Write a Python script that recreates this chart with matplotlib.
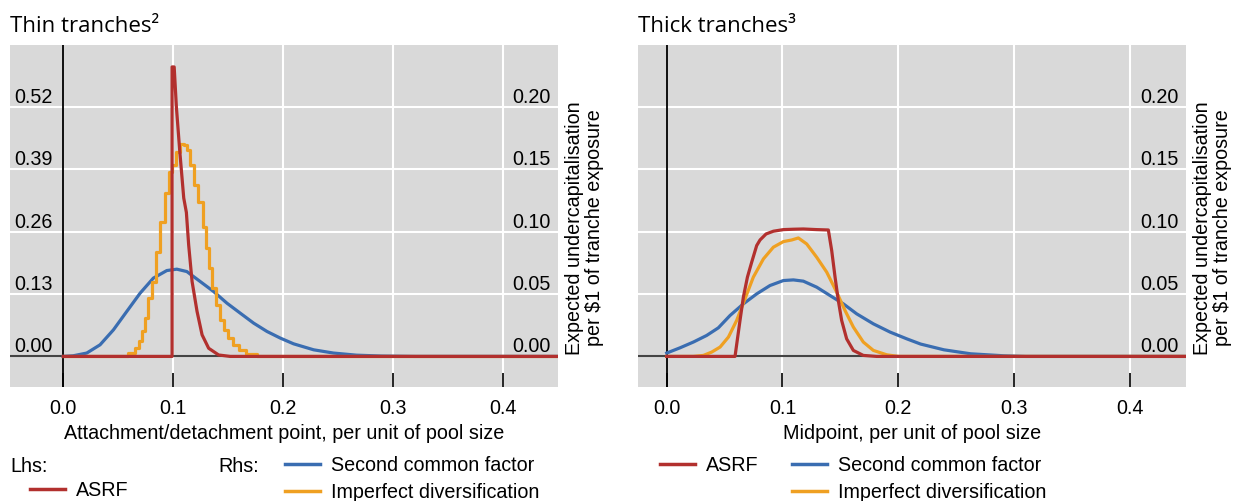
import matplotlib
matplotlib.use('Agg')
import matplotlib.pyplot as plt
from matplotlib.lines import Line2D

plt.rcParams['font.family'] = ['Liberation Sans', 'DejaVu Sans']

# thin tranches (left panel); ASRF on lhs, the others on rhs
thin_asrf_x = [0.0, 0.0991, 0.0991, 0.101, 0.103, 0.106, 0.1097, 0.1121, 0.1142, 0.1173,
               0.1218, 0.1264, 0.1324, 0.1415, 0.152, 0.45]
thin_asrf = [0, 0, 0.603, 0.603, 0.52, 0.43, 0.33, 0.30, 0.232, 0.156,
             0.094, 0.045, 0.017, 0.003, 0, 0]
thin_imp_x = [0.0, 0.0552, 0.0627, 0.0673, 0.0703, 0.0724, 0.0758, 0.0794, 0.0824, 0.0864,
              0.090, 0.0945, 0.0976, 0.1006, 0.1042, 0.1082, 0.1112, 0.1142, 0.1173, 0.1212,
              0.1248, 0.1288, 0.1309, 0.1339, 0.1376, 0.1406, 0.1445, 0.1485, 0.1521, 0.1567,
              0.1627, 0.1703, 0.1824, 0.45]
thin_imp = [0, 0, 0.0027, 0.0067, 0.012, 0.020, 0.0307, 0.0467, 0.060, 0.084,
            0.108, 0.1307, 0.148, 0.153, 0.164, 0.170, 0.169, 0.165, 0.153, 0.137,
            0.124, 0.104, 0.0867, 0.0707, 0.0547, 0.0413, 0.0293, 0.0213, 0.0147, 0.0093,
            0.0053, 0.0021, 0, 0]
thin_scf_x = [0.0, 0.009, 0.0214, 0.0335, 0.0457, 0.0578, 0.070, 0.082, 0.0943, 0.1034,
              0.1125, 0.1247, 0.1369, 0.149, 0.1611, 0.1733, 0.1855, 0.1976, 0.2097, 0.228,
              0.246, 0.267, 0.29, 0.32, 0.45]
thin_scf = [0, 0.0005, 0.0027, 0.0093, 0.0213, 0.036, 0.0507, 0.0627, 0.0688, 0.0699,
            0.068, 0.060, 0.052, 0.0427, 0.0347, 0.0267, 0.020, 0.0147, 0.0101, 0.0053,
            0.0027, 0.001, 0.0003, 0, 0]

# thick tranches (right panel), all on rhs
thick_asrf_x = [0.0, 0.059, 0.0633, 0.0662, 0.0697, 0.0734, 0.0777, 0.0806, 0.0858, 0.0921,
                0.1008, 0.1094, 0.118, 0.1295, 0.1396, 0.1425, 0.1454, 0.1482, 0.1511, 0.1554,
                0.1612, 0.1698, 0.1813, 0.45]
thick_asrf = [0, 0, 0.0288, 0.0475, 0.0635, 0.0755, 0.0888, 0.0933, 0.0981, 0.1003,
              0.1016, 0.1019, 0.1021, 0.1016, 0.1013, 0.0848, 0.0635, 0.0448, 0.0288, 0.0141,
              0.0048, 0.0008, 0, 0]
thick_imp_x = [0.0, 0.023, 0.0317, 0.0389, 0.0461, 0.0533, 0.0604, 0.0676, 0.0748, 0.0835,
               0.0921, 0.1008, 0.108, 0.1137, 0.1209, 0.1295, 0.1382, 0.1468, 0.154, 0.1612,
               0.1698, 0.1785, 0.19, 0.2, 0.45]
thick_imp = [0, 0, 0.0008, 0.0035, 0.0075, 0.0155, 0.0288, 0.0461, 0.0635, 0.0781,
             0.0875, 0.092, 0.0933, 0.0949, 0.0901, 0.0795, 0.0675, 0.0515, 0.0368, 0.0235,
             0.0115, 0.0048, 0.0013, 0, 0]
thick_scf_x = [0.0, 0.0115, 0.023, 0.0345, 0.0446, 0.0547, 0.0662, 0.0777, 0.0892, 0.1008,
               0.1094, 0.118, 0.1295, 0.141, 0.1526, 0.1641, 0.1785, 0.1929, 0.2073, 0.2193,
               0.2394, 0.2625, 0.2913, 0.31, 0.45]
thick_scf = [0.0027, 0.0069, 0.0115, 0.0168, 0.0229, 0.0328, 0.0421, 0.0501, 0.0568, 0.0608,
             0.0613, 0.0603, 0.0555, 0.0488, 0.0421, 0.0341, 0.0261, 0.0195, 0.0141, 0.0099,
             0.0053, 0.0021, 0.0005, 0, 0]

x_ticks = [0.0, 0.1, 0.2, 0.3, 0.4]
rhs_ticks = [0.00, 0.05, 0.10, 0.15, 0.20]
lhs_ticks = [0.00, 0.13, 0.26, 0.39, 0.52]

RED, BLUE, ORANGE = '#B2302E', '#3A6DB1', '#EFA022'
BG = '#D9D9D9'
FS = 14.2
YLABEL = 'Expected undercapitalisation\nper $1 of tranche exposure'


def right_ticks(ax):
    ax.set_yticks(rhs_ticks)
    ax.set_yticklabels([f'{t:.2f}' for t in rhs_ticks])
    ax.yaxis.tick_right()
    ax.yaxis.set_label_position('right')
    ax.tick_params(axis='y', which='both', left=False, right=True, labelleft=False,
                   labelright=True, length=0, pad=-5, labelsize=FS)
    for lab in ax.get_yticklabels():
        lab.set_horizontalalignment('right')
        lab.set_verticalalignment('bottom')


def style_panel(ax, xlim, xlabel):
    ax.set_facecolor(BG)
    ax.set_xlim(*xlim)
    ax.set_ylim(-0.0245, 0.2495)
    for s in ax.spines.values():
        s.set_visible(False)
    for t in rhs_ticks[1:]:
        ax.axhline(t, color='white', lw=1.5, zorder=0.5)
    for t in x_ticks[1:]:
        ax.axvline(t, color='white', lw=1.5, zorder=0.5)
    ax.axvline(0, color='black', lw=1.3, zorder=0.6)
    ax.axhline(0, color='#444444', lw=1.5, zorder=0.6)
    ax.set_xticks(x_ticks)
    ax.set_xticklabels([f'{t:.1f}' for t in x_ticks])
    ax.tick_params(axis='x', direction='in', length=10, width=1.2, pad=9, labelsize=FS)
    ax.set_xlabel(xlabel, fontsize=FS, labelpad=4)
    right_ticks(ax)
    ax.set_ylabel(YLABEL, fontsize=FS, linespacing=1.05)
    ax.yaxis.set_label_coords(1.013, 0.465)


TITLE_KW = dict(loc='left', fontsize=16, family=['Open Sans', 'DejaVu Sans'], pad=9, x=0)

fig = plt.figure(figsize=(12.44, 5.01), dpi=100)

# left panel
axr1 = fig.add_axes([10 / 1244, 114 / 501, 548 / 1244, 342 / 501])
style_panel(axr1, (-0.0485, 0.4505), 'Attachment/detachment point, per unit of pool size')
axr1.plot(thin_scf_x, thin_scf, color=BLUE, lw=2.3)
axr1.plot(thin_imp_x, thin_imp, color=ORANGE, lw=2.3, drawstyle='steps-mid')

axl1 = axr1.twinx()
right_ticks(axr1)  # twinx moves the original ticks to the left
axr1.yaxis.set_label_coords(1.013, 0.465)
axl1.set_zorder(axr1.get_zorder() + 1)
axl1.patch.set_visible(False)
axl1.set_ylim(-0.0245 * 2.6, 0.2495 * 2.6)
for s in axl1.spines.values():
    s.set_visible(False)
axl1.yaxis.tick_left()
axl1.set_yticks(lhs_ticks)
axl1.set_yticklabels([f'{t:.2f}' for t in lhs_ticks])
axl1.tick_params(axis='y', length=0, pad=-3, labelsize=FS, left=True, right=False,
                 labelleft=True, labelright=False)
for lab in axl1.get_yticklabels():
    lab.set_horizontalalignment('left')
    lab.set_verticalalignment('bottom')
axl1.plot(thin_asrf_x, thin_asrf, color=RED, lw=2.3)
axr1.set_title('Thin tranches²', **TITLE_KW)

# right panel
ax2 = fig.add_axes([638 / 1244, 114 / 501, 548 / 1244, 342 / 501])
style_panel(ax2, (-0.0248, 0.4485), 'Midpoint, per unit of pool size')
ax2.plot(thick_scf_x, thick_scf, color=BLUE, lw=2.3)
ax2.plot(thick_imp_x, thick_imp, color=ORANGE, lw=2.3)
ax2.plot(thick_asrf_x, thick_asrf, color=RED, lw=2.3)
ax2.set_title('Thick tranches³', **TITLE_KW)

# legends
h_red = Line2D([], [], color=RED, lw=2.5)
h_blue = Line2D([], [], color=BLUE, lw=2.5)
h_orange = Line2D([], [], color=ORANGE, lw=2.5)
leg_kw = dict(frameon=False, fontsize=FS, handlelength=1.75, handletextpad=0.6,
              labelspacing=0.42, borderpad=0, borderaxespad=0, loc='upper left')

fig.text(10 / 1244, 1 - 466 / 501, 'Lhs:', fontsize=FS, va='center')
fig.text(218 / 1244, 1 - 466 / 501, 'Rhs:', fontsize=FS, va='center')
fig.legend([h_red], ['ASRF'], bbox_to_anchor=(30 / 1244, 1 - 481 / 501), **leg_kw)
fig.legend([h_blue, h_orange], ['Second common factor', 'Imperfect diversification'],
           bbox_to_anchor=(285 / 1244, 1 - 456 / 501), **leg_kw)
fig.legend([h_red], ['ASRF'], bbox_to_anchor=(660 / 1244, 1 - 456 / 501), **leg_kw)
fig.legend([h_blue, h_orange], ['Second common factor', 'Imperfect diversification'],
           bbox_to_anchor=(792 / 1244, 1 - 456 / 501), **leg_kw)

fig.savefig('out.png', dpi=100)
